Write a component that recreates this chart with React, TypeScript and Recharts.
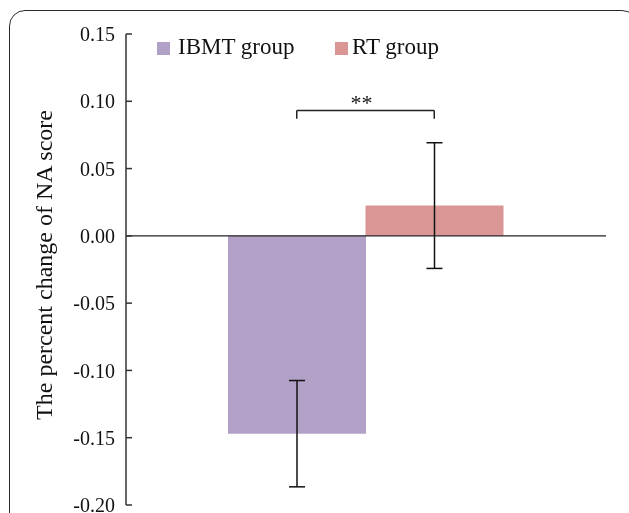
import React from 'react';
import { BarChart, Bar, XAxis, YAxis, Cell, ErrorBar, ReferenceLine, Legend } from 'recharts';

const categories = ['IBMT group', 'RT group'];
const values = [-0.147, 0.0225];
const errors = [0.0395, 0.0467];
const colors = ['#B2A1C7', '#D99694'];
const yTicks = [-0.2, -0.15, -0.1, -0.05, 0, 0.05, 0.1, 0.15];
const bracketY = 0.0932;
const bracketDrop = 0.0871;
const significance = '**';
const yLabel = 'The percent change of NA score';

const data = categories.map((name, i) => ({ name, value: values[i], err: errors[i] }));

const FONT = '"Liberation Serif", "Times New Roman", serif';

const YLabel = (props: any) => {
  const { viewBox } = props;
  const x = viewBox.x + 44;
  const y = viewBox.y + viewBox.height / 2 - 4.5;
  return (
    <text x={x} y={y} transform={`rotate(-90, ${x}, ${y})`} textAnchor="middle" fontSize={24} fontFamily={FONT} fill="#111">
      {yLabel}
    </text>
  );
};

const SigLabel = (props: any) => {
  const { viewBox } = props;
  const cx = viewBox.x + viewBox.width / 2 - 4;
  return (
    <text x={cx} y={viewBox.y} textAnchor="middle" fontSize={22} fontFamily={FONT} fill="#111">
      {significance}
    </text>
  );
};

const legendPos = [
  { sq: 0, tx: 21 },
  { sq: 178, tx: 195 },
];

const LegendContent = () => (
  <div style={{ position: 'relative', width: 320, height: 30, fontFamily: FONT, fontSize: 23, color: '#111' }}>
    {categories.map((c, i) => (
      <React.Fragment key={c}>
        <div style={{ position: 'absolute', left: legendPos[i].sq, top: 7, width: 13, height: 13, background: colors[i] }} />
        <div style={{ position: 'absolute', left: legendPos[i].tx, top: 0, lineHeight: '24px', whiteSpace: 'nowrap' }}>{c}</div>
      </React.Fragment>
    ))}
  </div>
);

export default function App() {
  return (
    <div style={{ position: 'fixed', left: 8, top: 8, width: 621, height: 505, overflow: 'hidden' }}>
      <div
        style={{
          position: 'absolute',
          left: 1,
          top: 2,
          width: 627,
          height: 700,
          border: '1.5px solid #2a2a2a',
          borderRadius: 16,
        }}
      />
      <BarChart
        width={621}
        height={505}
        data={data}
        margin={{ top: 26, right: 23, bottom: 8, left: 0 }}
        barCategoryGap={0}
        barGap={0}
      >
        <XAxis dataKey="name" hide padding={{ left: 102, right: 103 }} />
        <YAxis
          width={118}
          domain={[-0.2, 0.15]}
          ticks={yTicks}
          interval={0}
          allowDataOverflow
          tickFormatter={(v: number) => v.toFixed(2)}
          tickSize={-6}
          tickMargin={17}
          axisLine={{ stroke: '#333', strokeWidth: 1.5 }}
          tickLine={{ stroke: '#333', strokeWidth: 1.5 }}
          tick={{ fill: '#111', fontSize: 20, fontFamily: FONT }}
          label={<YLabel />}
        />
        <Legend
          layout="horizontal"
          verticalAlign="middle"
          align="center"
          wrapperStyle={{ top: 27, left: 149, width: 320, height: 30 }}
          content={LegendContent}
        />
        <Bar dataKey="value" isAnimationActive={false}>
          {data.map((d, i) => (
            <Cell key={d.name} fill={colors[i]} />
          ))}
          <ErrorBar dataKey="err" width={8} stroke="#111" strokeWidth={1.5} direction="y" />
        </Bar>
        <ReferenceLine y={0} stroke="#222" strokeWidth={1.2} />
        <ReferenceLine
          segment={[{ x: categories[0], y: bracketY }, { x: categories[1], y: bracketY }]}
          stroke="#222"
          strokeWidth={1.5}
          label={<SigLabel />}
        />
        <ReferenceLine
          segment={[{ x: categories[0], y: bracketY }, { x: categories[0], y: bracketDrop }]}
          stroke="#222"
          strokeWidth={1.5}
        />
        <ReferenceLine
          segment={[{ x: categories[1], y: bracketY }, { x: categories[1], y: bracketDrop }]}
          stroke="#222"
          strokeWidth={1.5}
        />
      </BarChart>
    </div>
  );
}
